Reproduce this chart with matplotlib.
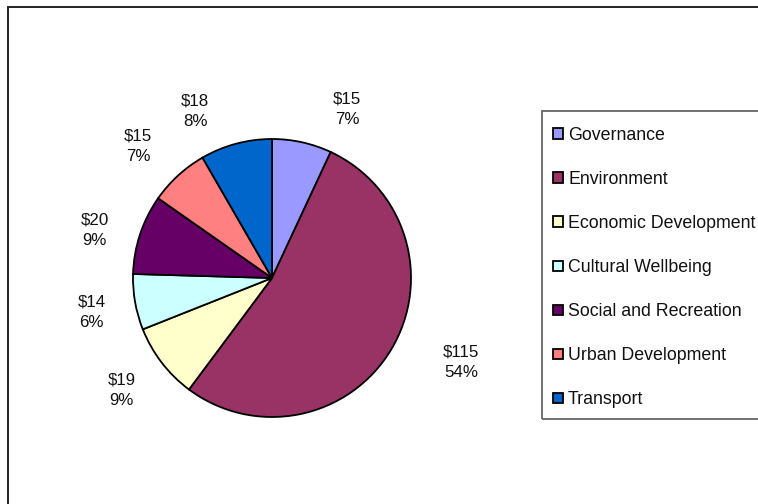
import numpy as np
import matplotlib
matplotlib.use('Agg')
import matplotlib.pyplot as plt
from matplotlib.patches import Rectangle

plt.rcParams['font.family'] = ['Liberation Sans', 'DejaVu Sans']

# spending by area ($ millions) and rounded share of total
categories = ['Governance', 'Environment', 'Economic Development', 'Cultural Wellbeing',
              'Social and Recreation', 'Urban Development', 'Transport']
amounts = [15, 115, 19, 14, 20, 15, 18]
shares = [7, 54, 9, 6, 9, 7, 8]
colors = ['#9999FF', '#993366', '#FFFFCC', '#CCFFFF', '#660066', '#FF8080', '#0066CC']

W, H = 758, 504
cx, cy, R = 272, 278, 139          # pie centre / radius in pixels (from top-left)

fig = plt.figure(figsize=(W / 100, H / 100), dpi=100)
ax = fig.add_axes([0, 0, 1, 1])

wedges, _ = ax.pie(amounts, colors=colors, startangle=90, counterclock=False,
                   radius=1, wedgeprops=dict(edgecolor='black', linewidth=1.3))
ax.set_xlim(-cx / R, (W - cx) / R)
ax.set_ylim(-(H - cy) / R, cy / R)
ax.set_aspect('equal')
ax.axis('off')

# outside labels, pushed a little off the mid-angle so they don't crowd
label_nudge = [-11.5, 6.8, -0.8, 0.7, 3.2, 2.9, 9.8]
label_dist = [1.33, 1.49, 1.35, 1.32, 1.32, 1.35, 1.32]
for w, amt, pct, nudge, dist in zip(wedges, amounts, shares, label_nudge, label_dist):
    a = np.deg2rad((w.theta1 + w.theta2) / 2 + nudge)
    ax.text(dist * np.cos(a), dist * np.sin(a), f'${amt}\n{pct}%',
            ha='center', va='center', fontsize=12.2, linespacing=1.45, color='#111111')

# chart-area border (runs off the right and bottom edge)
fig.add_artist(Rectangle((7.5 / W, -0.05), 1.2, 1 - 6.5 / H + 0.05, transform=fig.transFigure,
                         fill=False, edgecolor='#222222', linewidth=1.4, clip_on=False))

# legend box, also cut off at the right
top, bottom = 111, 419
fig.add_artist(Rectangle((542 / W, 1 - bottom / H), 0.5, (bottom - top) / H,
                         transform=fig.transFigure, fill=False, edgecolor='#666666',
                         linewidth=1.3, clip_on=False))
for i, (name, c) in enumerate(zip(categories, colors)):
    y = 133.5 + 44 * i
    fig.add_artist(Rectangle((553 / W, 1 - (y + 5) / H), 10 / W, 10 / H,
                             transform=fig.transFigure, facecolor=c,
                             edgecolor='black', linewidth=1.3))
    fig.text(568 / W, 1 - y / H, name, ha='left', va='center_baseline',
             fontsize=12.8, color='#111111')

fig.savefig('out.png', dpi=100)
